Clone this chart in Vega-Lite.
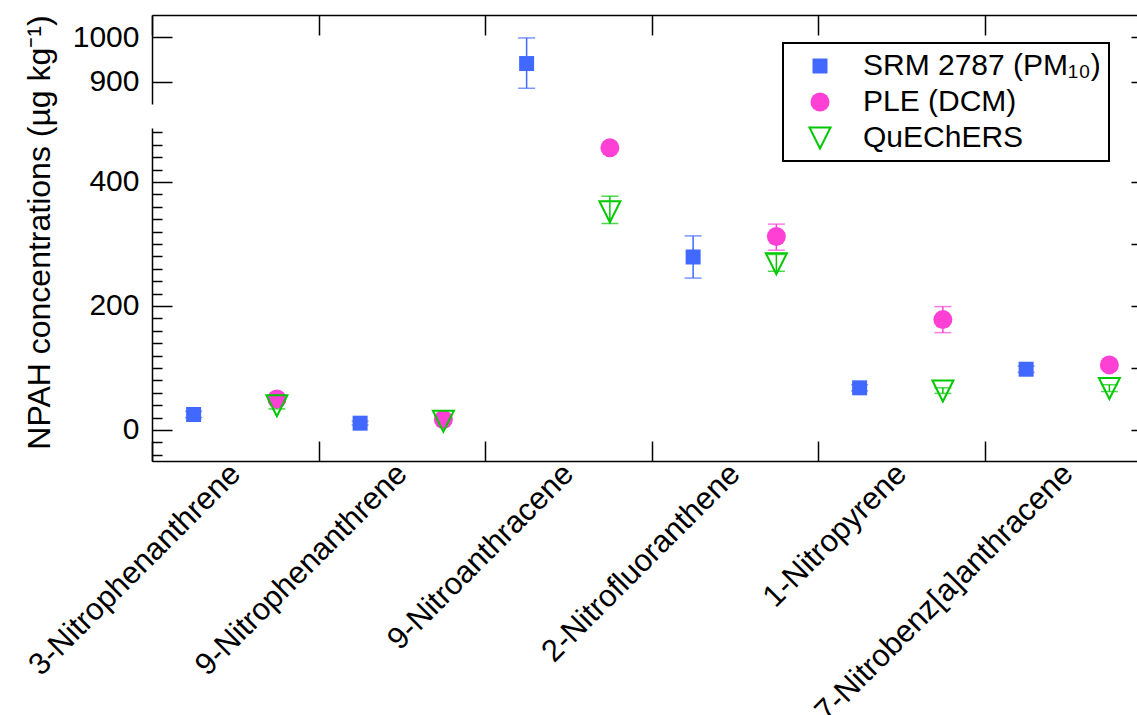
{
  "$schema": "https://vega.github.io/schema/vega-lite/v6.json",
  "background": "white",
  "padding": {"left": 22, "top": 14, "right": 0, "bottom": 0},
  "bounds": "flush",
  "datasets": {
    "npah": [
      {"compound": "3-Nitrophenanthrene", "method": "SRM 2787 (PM₁₀)", "group": "Reference", "value": 25, "lo": 20, "hi": 30},
      {"compound": "3-Nitrophenanthrene", "method": "PLE (DCM)", "group": "Extraction", "value": 50, "lo": 50, "hi": 50},
      {"compound": "3-Nitrophenanthrene", "method": "QuEChERS", "group": "Extraction", "value": 39, "lo": 34, "hi": 45},
      {"compound": "9-Nitrophenanthrene", "method": "SRM 2787 (PM₁₀)", "group": "Reference", "value": 11, "lo": 8, "hi": 14},
      {"compound": "9-Nitrophenanthrene", "method": "PLE (DCM)", "group": "Extraction", "value": 17, "lo": 17, "hi": 17},
      {"compound": "9-Nitrophenanthrene", "method": "QuEChERS", "group": "Extraction", "value": 14, "lo": 11, "hi": 17},
      {"compound": "9-Nitroanthracene", "method": "SRM 2787 (PM₁₀)", "group": "Reference", "value": 941, "lo": 886, "hi": 998},
      {"compound": "9-Nitroanthracene", "method": "PLE (DCM)", "group": "Extraction", "value": 455, "lo": 455, "hi": 455},
      {"compound": "9-Nitroanthracene", "method": "QuEChERS", "group": "Extraction", "value": 352, "lo": 333, "hi": 377},
      {"compound": "2-Nitrofluoranthene", "method": "SRM 2787 (PM₁₀)", "group": "Reference", "value": 279, "lo": 245, "hi": 313},
      {"compound": "2-Nitrofluoranthene", "method": "PLE (DCM)", "group": "Extraction", "value": 312, "lo": 290, "hi": 332},
      {"compound": "2-Nitrofluoranthene", "method": "QuEChERS", "group": "Extraction", "value": 268, "lo": 256, "hi": 283},
      {"compound": "1-Nitropyrene", "method": "SRM 2787 (PM₁₀)", "group": "Reference", "value": 68, "lo": 63, "hi": 73},
      {"compound": "1-Nitropyrene", "method": "PLE (DCM)", "group": "Extraction", "value": 178, "lo": 157, "hi": 199},
      {"compound": "1-Nitropyrene", "method": "QuEChERS", "group": "Extraction", "value": 63, "lo": 59, "hi": 68},
      {"compound": "7-Nitrobenz[a]anthracene", "method": "SRM 2787 (PM₁₀)", "group": "Reference", "value": 98, "lo": 93, "hi": 103},
      {"compound": "7-Nitrobenz[a]anthracene", "method": "PLE (DCM)", "group": "Extraction", "value": 105, "lo": 105, "hi": 105},
      {"compound": "7-Nitrobenz[a]anthracene", "method": "QuEChERS", "group": "Extraction", "value": 67, "lo": 62, "hi": 73}
    ]
  },
  "data": {"name": "npah"},
  "config": {
    "view": {"stroke": null},
    "font": "Liberation Sans",
    "axis": {
      "grid": false,
      "domainColor": "black",
      "domainWidth": 1.5,
      "tickColor": "black",
      "tickWidth": 1.5,
      "labelColor": "black",
      "titleColor": "black",
      "labelFont": "Liberation Sans",
      "titleFont": "Liberation Sans",
      "labelFontSize": 30,
      "titleFontSize": 32,
      "titleFontWeight": "normal"
    },
    "legend": {
      "padding": 8,
      "strokeColor": "black",
      "strokeWidth": 2,
      "fillColor": "white",
      "labelFont": "Liberation Sans",
      "labelFontSize": 30,
      "labelColor": "black",
      "labelLimit": 400,
      "labelOffset": 28,
      "symbolOffset": 14,
      "rowPadding": 6,
      "symbolStrokeWidth": 2,
      "title": null
    }
  },
  "resolve": {"legend": {"shape": "independent", "fill": "independent", "stroke": "independent", "size": "independent"}},
  "spacing": 24,
  "vconcat": [
    {
      "width": 999,
      "height": 89,
      "layer": [
        {
          "mark": {"type": "rule", "strokeWidth": 1.5, "clip": true},
          "encoding": {
            "x": {"field": "compound", "type": "nominal", "sort": null, "scale": {"paddingInner": 0, "paddingOuter": 0}, "axis": {"orient": "top", "labels": false, "tickBand": "extent", "tickSize": -20, "title": null}},
            "xOffset": {"field": "group", "type": "nominal", "scale": {"domain": ["Reference", "Extraction"]}},
            "y": {"field": "lo", "type": "quantitative", "scale": {"domain": [851, 1049], "nice": false, "zero": false}, "axis": {"orient": "left", "values": [900, 1000], "format": "d", "tickSize": -20, "labelPadding": 33, "title": null}},
            "y2": {"field": "hi"},
            "color": {"field": "method", "type": "nominal", "scale": {"domain": ["SRM 2787 (PM₁₀)", "PLE (DCM)", "QuEChERS"], "range": ["#4169FF", "#FF40D5", "#00C800"]}, "legend": null}
          }
        },
        {
          "mark": {"type": "tick", "size": 17, "thickness": 1.5, "clip": true},
          "encoding": {
            "x": {"field": "compound", "type": "nominal", "sort": null, "scale": {"paddingInner": 0, "paddingOuter": 0}, "axis": {"orient": "top", "labels": false, "tickBand": "extent", "tickSize": -20, "title": null}},
            "xOffset": {"field": "group", "type": "nominal", "scale": {"domain": ["Reference", "Extraction"]}},
            "y": {"field": "lo", "type": "quantitative", "scale": {"domain": [851, 1049], "nice": false, "zero": false}, "axis": null},
            "color": {"field": "method", "type": "nominal", "scale": {"domain": ["SRM 2787 (PM₁₀)", "PLE (DCM)", "QuEChERS"], "range": ["#4169FF", "#FF40D5", "#00C800"]}, "legend": null}
          }
        },
        {
          "mark": {"type": "tick", "size": 17, "thickness": 1.5, "clip": true},
          "encoding": {
            "x": {"field": "compound", "type": "nominal", "sort": null, "scale": {"paddingInner": 0, "paddingOuter": 0}, "axis": {"orient": "top", "labels": false, "tickBand": "extent", "tickSize": -20, "title": null}},
            "xOffset": {"field": "group", "type": "nominal", "scale": {"domain": ["Reference", "Extraction"]}},
            "y": {"field": "hi", "type": "quantitative", "scale": {"domain": [851, 1049], "nice": false, "zero": false}, "axis": null},
            "color": {"field": "method", "type": "nominal", "scale": {"domain": ["SRM 2787 (PM₁₀)", "PLE (DCM)", "QuEChERS"], "range": ["#4169FF", "#FF40D5", "#00C800"]}, "legend": null}
          }
        },
        {
          "mark": {"type": "point", "strokeWidth": 2, "opacity": 1, "clip": true},
          "encoding": {
            "x": {"field": "compound", "type": "nominal", "sort": null, "scale": {"paddingInner": 0, "paddingOuter": 0}, "axis": {"orient": "top", "labels": false, "tickBand": "extent", "tickSize": -20, "title": null}},
            "xOffset": {"field": "group", "type": "nominal", "scale": {"domain": ["Reference", "Extraction"]}},
            "y": {"field": "value", "type": "quantitative", "scale": {"domain": [851, 1049], "nice": false, "zero": false}, "axis": {"orient": "right", "values": [900, 1000], "tickSize": -20, "labels": false, "title": null}},
            "shape": {"field": "method", "type": "nominal", "sort": null, "scale": {"domain": ["SRM 2787 (PM₁₀)", "PLE (DCM)", "QuEChERS"], "range": ["square", "circle", "M-1,-1L1,-1L0,1Z"]}, "legend": {"orient": "none", "legendX": 631, "legendY": 28}},
            "fill": {"field": "method", "type": "nominal", "sort": null, "scale": {"domain": ["SRM 2787 (PM₁₀)", "PLE (DCM)", "QuEChERS"], "range": ["#4169FF", "#FF40D5", "transparent"]}, "legend": {"orient": "none", "legendX": 631, "legendY": 28}},
            "stroke": {"field": "method", "type": "nominal", "sort": null, "scale": {"domain": ["SRM 2787 (PM₁₀)", "PLE (DCM)", "QuEChERS"], "range": ["transparent", "transparent", "#00C800"]}, "legend": {"orient": "none", "legendX": 631, "legendY": 28}},
            "size": {"field": "method", "type": "nominal", "sort": null, "scale": {"type": "ordinal", "domain": ["SRM 2787 (PM₁₀)", "PLE (DCM)", "QuEChERS"], "range": [225, 361, 441]}, "legend": {"orient": "none", "legendX": 631, "legendY": 28}}
          }
        }
      ],
      "resolve": {"axis": {"y": "independent"}}
    },
    {
      "width": 999,
      "height": 333,
      "layer": [
        {
          "mark": {"type": "rule", "strokeWidth": 1.5, "clip": true},
          "encoding": {
            "x": {"field": "compound", "type": "nominal", "sort": null, "scale": {"paddingInner": 0, "paddingOuter": 0}, "axis": {"orient": "bottom", "tickBand": "extent", "tickSize": -20, "labelPadding": 28, "labelAngle": -45, "labelAlign": "right", "labelBaseline": "middle", "labelFontSize": 31, "labelLimit": 1000, "labelOverlap": false, "title": null}},
            "xOffset": {"field": "group", "type": "nominal", "scale": {"domain": ["Reference", "Extraction"]}},
            "y": {"field": "lo", "type": "quantitative", "scale": {"domain": [-50, 487], "nice": false, "zero": false}, "axis": {"orient": "left", "values": [-40, -20, 0, 20, 40, 60, 80, 100, 120, 140, 160, 180, 200, 220, 240, 260, 280, 300, 320, 340, 360, 380, 400, 420, 440, 460, 480], "tickSize": {"condition": {"test": "datum.value % 200 === 0", "value": -20}, "value": -10}, "labelExpr": "datum.value % 200 === 0 ? datum.label : ''", "labelOverlap": false, "labelPadding": 33, "title": "NPAH concentrations (µg kg⁻¹)", "titleX": -96, "titleY": 104, "titleAlign": "center", "titleBaseline": "bottom"}},
            "y2": {"field": "hi"},
            "color": {"field": "method", "type": "nominal", "scale": {"domain": ["SRM 2787 (PM₁₀)", "PLE (DCM)", "QuEChERS"], "range": ["#4169FF", "#FF40D5", "#00C800"]}, "legend": null}
          }
        },
        {
          "mark": {"type": "tick", "size": 17, "thickness": 1.5, "clip": true},
          "encoding": {
            "x": {"field": "compound", "type": "nominal", "sort": null, "scale": {"paddingInner": 0, "paddingOuter": 0}, "axis": {"orient": "bottom", "tickBand": "extent", "tickSize": -20, "labelPadding": 28, "labelAngle": -45, "labelAlign": "right", "labelBaseline": "middle", "labelFontSize": 31, "labelLimit": 1000, "labelOverlap": false, "title": null}},
            "xOffset": {"field": "group", "type": "nominal", "scale": {"domain": ["Reference", "Extraction"]}},
            "y": {"field": "lo", "type": "quantitative", "scale": {"domain": [-50, 487], "nice": false, "zero": false}, "axis": null},
            "color": {"field": "method", "type": "nominal", "scale": {"domain": ["SRM 2787 (PM₁₀)", "PLE (DCM)", "QuEChERS"], "range": ["#4169FF", "#FF40D5", "#00C800"]}, "legend": null}
          }
        },
        {
          "mark": {"type": "tick", "size": 17, "thickness": 1.5, "clip": true},
          "encoding": {
            "x": {"field": "compound", "type": "nominal", "sort": null, "scale": {"paddingInner": 0, "paddingOuter": 0}, "axis": {"orient": "bottom", "tickBand": "extent", "tickSize": -20, "labelPadding": 28, "labelAngle": -45, "labelAlign": "right", "labelBaseline": "middle", "labelFontSize": 31, "labelLimit": 1000, "labelOverlap": false, "title": null}},
            "xOffset": {"field": "group", "type": "nominal", "scale": {"domain": ["Reference", "Extraction"]}},
            "y": {"field": "hi", "type": "quantitative", "scale": {"domain": [-50, 487], "nice": false, "zero": false}, "axis": null},
            "color": {"field": "method", "type": "nominal", "scale": {"domain": ["SRM 2787 (PM₁₀)", "PLE (DCM)", "QuEChERS"], "range": ["#4169FF", "#FF40D5", "#00C800"]}, "legend": null}
          }
        },
        {
          "mark": {"type": "point", "strokeWidth": 2, "opacity": 1, "clip": true},
          "encoding": {
            "x": {"field": "compound", "type": "nominal", "sort": null, "scale": {"paddingInner": 0, "paddingOuter": 0}, "axis": {"orient": "bottom", "tickBand": "extent", "tickSize": -20, "labelPadding": 28, "labelAngle": -45, "labelAlign": "right", "labelBaseline": "middle", "labelFontSize": 31, "labelLimit": 1000, "labelOverlap": false, "title": null}},
            "xOffset": {"field": "group", "type": "nominal", "scale": {"domain": ["Reference", "Extraction"]}},
            "y": {"field": "value", "type": "quantitative", "scale": {"domain": [-50, 487], "nice": false, "zero": false}, "axis": {"orient": "right", "values": [-40, -20, 0, 20, 40, 60, 80, 100, 120, 140, 160, 180, 200, 220, 240, 260, 280, 300, 320, 340, 360, 380, 400, 420, 440, 460, 480], "tickSize": {"condition": {"test": "datum.value % 100 === 0", "value": -20}, "value": -10}, "labels": false, "title": null}},
            "shape": {"field": "method", "type": "nominal", "sort": null, "scale": {"domain": ["SRM 2787 (PM₁₀)", "PLE (DCM)", "QuEChERS"], "range": ["square", "circle", "M-1,-1L1,-1L0,1Z"]}, "legend": null},
            "fill": {"field": "method", "type": "nominal", "sort": null, "scale": {"domain": ["SRM 2787 (PM₁₀)", "PLE (DCM)", "QuEChERS"], "range": ["#4169FF", "#FF40D5", "transparent"]}, "legend": null},
            "stroke": {"field": "method", "type": "nominal", "sort": null, "scale": {"domain": ["SRM 2787 (PM₁₀)", "PLE (DCM)", "QuEChERS"], "range": ["transparent", "transparent", "#00C800"]}, "legend": null},
            "size": {"field": "method", "type": "nominal", "sort": null, "scale": {"type": "ordinal", "domain": ["SRM 2787 (PM₁₀)", "PLE (DCM)", "QuEChERS"], "range": [225, 361, 441]}, "legend": null}
          }
        }
      ],
      "resolve": {"axis": {"y": "independent"}}
    }
  ]
}
